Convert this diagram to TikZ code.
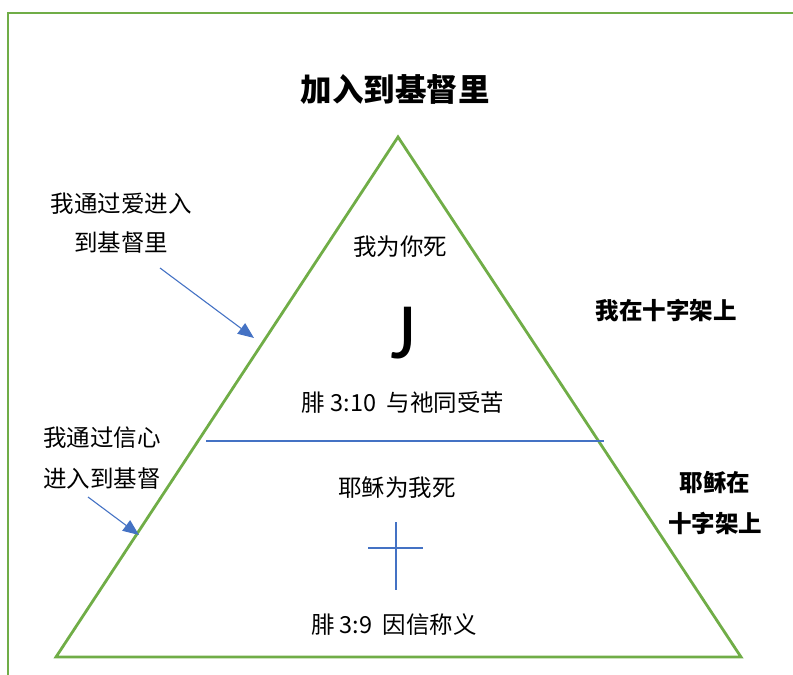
\documentclass[tikz,border=0pt]{standalone}
\usepackage{fontspec}
\newfontfamily\cjk{Noto Sans CJK SC}
\newfontfamily\jfont{Carlito}
\usetikzlibrary{arrows.meta}
\definecolor{tgreen}{HTML}{70AD47}
\definecolor{tblue}{HTML}{4472C4}
\tikzset{
  lbl/.style={font=\cjk\fontsize{23.5}{26}\selectfont, inner sep=0pt, anchor=center},
  blbl/.style={font=\cjk\bfseries\fontsize{23.5}{26}\selectfont, inner sep=0pt, anchor=center},
  gline/.style={draw=tgreen, line width=2.8pt},
  bline/.style={draw=tblue, line width=1.1pt},
  barrow/.style={draw=tblue, line width=1.1pt, -{Triangle[length=16pt,width=13pt]}}
}
\begin{document}
\begin{tikzpicture}[x=1pt,y=-1pt]
\useasboundingbox (0,0) rectangle (793,675);
% frame
\coordinate (ftr) at (800,13);
\coordinate (ftl) at (8,13);
\coordinate (fbl) at (8,680);
\draw[gline] (ftr) -- (ftl) -- (fbl);
% triangle
\coordinate (apex) at (398,137);
\coordinate (bl) at (56,657);
\coordinate (br) at (741,657);
\draw[gline, line join=miter] (apex) -- (bl) -- (br) -- cycle;
% divider
\coordinate (dl) at (206,441);
\coordinate (dr) at (604,441);
\draw[bline] (dl) -- (dr);
% cross
\coordinate (ct) at (396,522);
\coordinate (cb) at (396,590);
\coordinate (cl) at (368,548);
\coordinate (cr) at (423,548);
\draw[bline] (ct) -- (cb);
\draw[bline] (cl) -- (cr);
% texts
\node[font=\cjk\bfseries\fontsize{31.5}{34}\selectfont, inner sep=0pt] (title) at (395,89) {加入到基督里};
\node[lbl] (l1a) at (121,204) {我通过爱进入};
\node[lbl] (l1b) at (121,243) {到基督里};
\node[lbl] (top) at (400,247) {我为你死};
\node[font=\jfont\fontsize{80}{82}\selectfont, inner sep=0pt] (J) at (403,333) {J};
\node[lbl] (v1) at (403,403) {腓 3:10\ \ 与祂同受苦};
\node[blbl] (r1) at (666,311) {我在十字架上};
\node[lbl] (l2a) at (102,438) {我通过信心};
\node[lbl] (l2b) at (102,479) {进入到基督};
\node[lbl] (mid) at (397,488) {耶稣为我死};
\node[lbl] (v2) at (394,625) {腓 3:9\ \ 因信称义};
\node[blbl] (r2a) at (715,483) {耶稣在};
\node[blbl] (r2b) at (715,523) {十字架上};
% arrows
\coordinate (a1s) at (160,268);
\coordinate (a1e) at (254,338);
\coordinate (a2s) at (88,497);
\coordinate (a2e) at (139,535);
\draw[barrow] (a1s) -- (a1e);
\draw[barrow] (a2s) -- (a2e);
\end{tikzpicture}
\end{document}
